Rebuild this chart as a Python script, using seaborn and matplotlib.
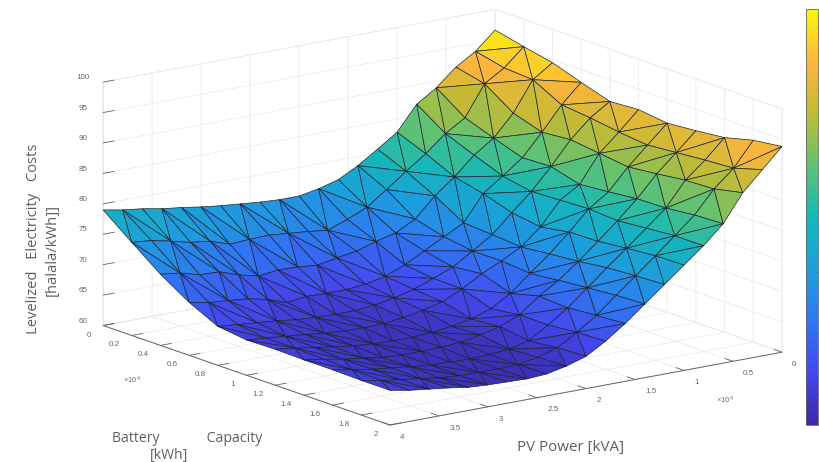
import numpy as np
import pandas as pd
import matplotlib
matplotlib.use("Agg")
import matplotlib.pyplot as plt
import matplotlib.tri as mtri
from matplotlib.cm import ScalarMappable
from matplotlib.colors import Normalize
from mpl_toolkits.mplot3d import proj3d
import seaborn as sns

pv_power = [0, 2000, 4000, 6000, 8000, 10000, 12000, 14000, 16000, 18000, 20000,
            22000, 24000, 26000, 28000, 30000, 32000, 34000, 36000, 38000, 40000]
battery = [0, 2000, 4000, 6000, 8000, 10000, 12000, 14000, 16000, 18000, 20000]

b0 = [96.6,93.7,91.7,88.9,86.8,82.8,80.6,78.5,76.8,75.9,75.3,75.3,75.5,75.8,76.1,76.5,77.0,77.4,78.0,78.4,79.0]
b1 = [95.5,92.6,90.6,85.6,83.6,80.9,78.6,76.2,73.9,72.5,71.3,71.7,72.0,72.3,72.2,72.0,73.1,73.5,74.3,75.0,75.3]
b2 = [94.5,92.3,87.4,83.9,81.7,78.7,76.2,73.0,71.3,70.5,69.5,69.0,68.4,68.7,68.8,68.4,69.2,70.3,70.4,71.3,71.7]
b3 = [92.9,89.8,85.9,82.3,79.9,77.6,73.4,71.7,70.0,68.3,67.0,66.3,66.0,66.0,66.1,65.7,66.8,67.5,67.8,68.1,68.7]
b4 = [91.4,89.3,86.3,82.5,79.0,76.1,73.1,71.0,69.0,67.7,66.5,65.7,65.1,64.8,64.8,64.9,65.1,65.5,65.8,66.1,66.4]
b5 = [91.7,88.6,85.7,81.2,79.2,75.4,72.7,71.0,69.5,67.6,66.1,65.3,64.7,64.3,64.2,64.3,64.5,64.9,65.2,65.5,65.8]
b6 = [91.1,88.1,85.1,81.6,79.4,76.2,73.2,70.6,67.9,66.0,64.9,64.3,63.9,63.7,63.7,63.8,64.1,64.5,65.0,65.5,65.9]
b7 = [91.5,88.5,85.6,82.1,79.1,76.3,73.6,71.1,69.1,66.6,65.3,64.5,63.9,63.7,63.6,63.6,63.8,64.3,64.7,65.3,65.8]
b8 = [92.0,88.9,86.2,82.2,79.5,76.8,74.2,71.5,68.8,66.6,64.6,63.8,63.5,63.4,63.5,63.6,63.9,64.3,64.7,65.2,65.8]
b9 = [93.2,89.2,86.4,82.7,79.9,77.2,74.5,71.9,69.2,67.0,65.1,64.1,63.5,63.4,63.4,63.5,63.7,64.2,64.6,65.1,65.7]
b10 = [93.8,90.6,87.4,82.9,79.9,77.3,74.7,72.1,69.5,67.2,65.3,64.3,63.6,63.4,63.5,63.6,63.8,64.3,64.7,65.1,65.7]

x_ticks = [0, 5000, 10000, 15000, 20000, 25000, 30000, 35000, 40000]
x_labels = ["0", "0.5", "1", "1.5", "2", "2.5", "3", "3.5", "4"]
y_ticks = [0, 2000, 4000, 6000, 8000, 10000, 12000, 14000, 16000, 18000, 20000]
y_labels = ["0", "0.2", "0.4", "0.6", "0.8", "1", "1.2", "1.4", "1.6", "1.8", "2"]
z_ticks = [60, 65, 70, 75, 80, 85, 90, 95, 100]
parula = ["#3b28a8", "#4448ee", "#2f78f2", "#1b9fdc", "#14b8b8",
          "#62c270", "#c0bb35", "#fdb53c", "#f8f70f"]

sns.set_theme(style="white")
plt.rcParams["mathtext.default"] = "regular"
W, H = 819, 462
fig = plt.figure(figsize=(W / 100, H / 100), dpi=100, facecolor="white")
table = pd.DataFrame([b0, b1, b2, b3, b4, b5, b6, b7, b8, b9, b10],
                     index=battery, columns=pv_power)
long = table.stack().rename_axis(["battery", "pv"]).reset_index(name="cost")
cmap = sns.blend_palette(parula, n_colors=256, as_cmap=True)
vmin, vmax = 62.5, 96.6

ax = fig.add_axes([0.1, 0.0, 0.5, 0.5 * W / H], projection="3d")
ax.set_proj_type("ortho")
ax.view_init(elev=14.7, azim=53.8)
ax.set_box_aspect((1, 1, 0.518))
tri = mtri.Triangulation(long["pv"].to_numpy(float), long["battery"].to_numpy(float))
ax.plot_trisurf(tri, long["cost"].to_numpy(), cmap=cmap, vmin=vmin, vmax=vmax,
                shade=False, edgecolor="#1c2430", linewidth=0.5, antialiased=True)
ax.set_xlim(0, 40000)
ax.set_ylim(0, 20000)
ax.set_zlim(60, 100)
ax.set_xticks(x_ticks, x_labels)
ax.set_yticks(y_ticks, y_labels)
ax.set_zticks(z_ticks, [str(v) for v in z_ticks])
ax.patch.set_alpha(0)
for axis in (ax.xaxis, ax.yaxis, ax.zaxis):
    axis.set_pane_color((1, 1, 1, 1))
    axis.pane.set_edgecolor("#ececec")
    axis.pane.set_linewidth(0.6)
    axis._axinfo["grid"].update(color="#ebebeb", linewidth=0.6)
    axis._axinfo["tick"].update(inward_factor=0.0, outward_factor=0.35, linewidth={True: 0.6, False: 0.6}, color="#666666")
    axis.line.set_color("#666666")
    axis.line.set_linewidth(0.7)
ax.zaxis.line.set_color("#e6e6e6")
ax.tick_params(labelsize=5.8, labelcolor="#666666", colors="#666666", pad=0)
ax.tick_params(axis="x", pad=1.5)
for lab in ax.get_xticklabels():
    lab.set_fontfamily("Liberation Sans")
    lab.set_ha("left")
    lab.set_va("center")
for lab in ax.get_yticklabels():
    lab.set_fontfamily("Liberation Sans")
    lab.set_ha("right")
    lab.set_va("center")
for lab in ax.get_zticklabels():
    lab.set_fontfamily("Liberation Sans")
    lab.set_va("bottom")


def corner_px(x, y, z):
    xs, ys, _ = proj3d.proj_transform(x, y, z, ax.get_proj())
    return ax.transData.transform((xs, ys))


# place the box so that its floor corners land where the reference has them
for _ in range(3):
    fig.canvas.draw()
    front = corner_px(40000, 20000, 60)
    right = corner_px(0, 20000, 60)
    target_w = 782 - 390
    current_w = right[0] - front[0]
    pos = ax.get_position()
    factor = target_w / current_w
    new_w = pos.width * factor
    new_h = pos.height * factor
    ax.set_position([pos.x0, pos.y0, new_w, new_h])
    fig.canvas.draw()
    front = corner_px(40000, 20000, 60)
    dx = (390 - front[0]) / W
    dy = ((H - 425) - front[1]) / H
    pos = ax.get_position()
    ax.set_position([pos.x0 + dx, pos.y0 + dy, pos.width, pos.height])

label_color = "#5f5f5f"


def px_text(x, y, s, size, family="Open Sans", color=label_color, **kw):
    fig.text(x / W, 1 - y / H, s, fontsize=size, family=family, color=color, **kw)


px_text(112, 438, "Battery" + " " * 13 + "Capacity", 10.1, ha="left", va="center")
px_text(169, 455, "[kWh]", 10.1, ha="center", va="center")
px_text(571, 447, "PV Power [kVA]", 10.9, ha="center", va="center")
px_text(34, 239, "Levelized   Electricity   Costs", 10.6, rotation=90, ha="center", va="center")
px_text(52, 250, "[halala/kWh]]", 10.6, rotation=90, ha="center", va="center")
px_text(132, 380, r"×10$^{4}$", 5.5, family="Liberation Sans", color="#707070", ha="center", va="center")
px_text(725, 400, r"×10$^{4}$", 5.5, family="Liberation Sans", color="#707070", ha="center", va="center")

cax = fig.add_axes([805.7 / W, 1 - 424.5 / H, 12 / W, 415.5 / H])
cb = fig.colorbar(ScalarMappable(Normalize(vmin, vmax), cmap), cax=cax)
cb.set_ticks([65, 70, 75, 80, 85, 90, 95])
cb.ax.tick_params(direction="in", length=3, width=0.5, color="#333333", labelright=False, right=True)
cb.outline.set_linewidth(0.6)
cb.outline.set_edgecolor("#666666")

fig.savefig("out.png", dpi=100)
